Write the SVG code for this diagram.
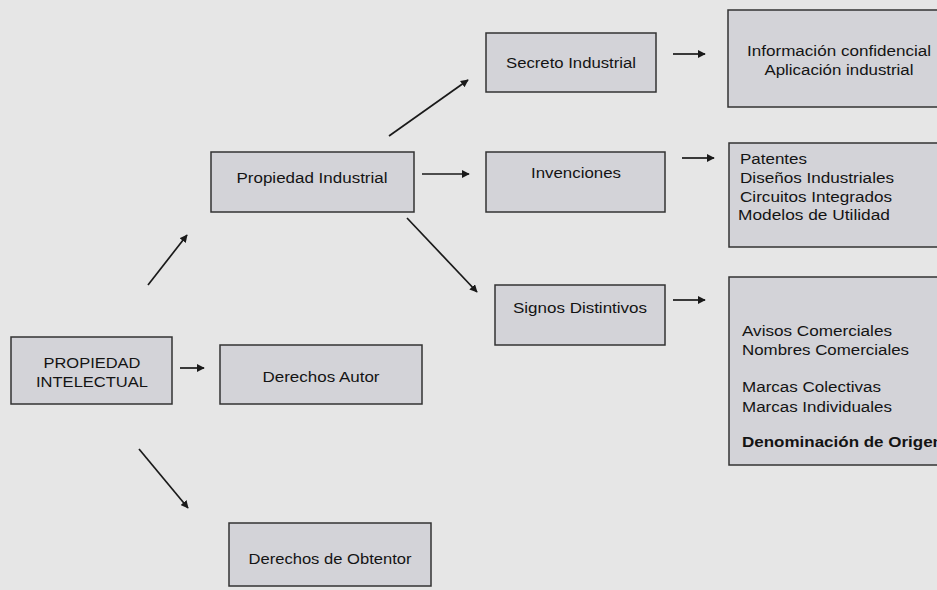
<svg xmlns="http://www.w3.org/2000/svg" width="937" height="590" viewBox="0 0 937 590">
  <style>
    .box { fill: #d3d3d8; stroke: #333333; stroke-width: 1.5; }
    .lbl { font-family: "Liberation Sans", Arial, sans-serif; font-size: 15.5px; fill: #141414; }
    .mid { text-anchor: middle; }
    .bold { font-weight: bold; }
    .con { stroke: #1a1a1a; stroke-width: 1.7; fill: none; marker-end: url(#head); }
  </style>
  <defs>
    <marker id="head" viewBox="0 0 10 10" refX="9" refY="5" markerWidth="4.6" markerHeight="4.6" orient="auto" markerUnits="strokeWidth">
      <path d="M0,0 L10,5 L0,10 Z" fill="#1a1a1a"/>
    </marker>
  </defs>

  <rect width="937" height="590" fill="#e6e6e6"/>

  <g id="connectors">
    <line class="con" x1="148" y1="285" x2="187" y2="235"/>
    <line class="con" x1="180" y1="368" x2="204" y2="368"/>
    <line class="con" x1="139" y1="449" x2="188" y2="508"/>
    <line class="con" x1="389" y1="136" x2="468" y2="80"/>
    <line class="con" x1="422" y1="174" x2="469" y2="174"/>
    <line class="con" x1="407" y1="218" x2="477" y2="292"/>
    <line class="con" x1="673" y1="54" x2="705" y2="54"/>
    <line class="con" x1="682" y1="158" x2="714" y2="158"/>
    <line class="con" x1="673" y1="300" x2="705" y2="300"/>
  </g>

  <g id="propiedad-intelectual">
    <rect class="box" x="11" y="337" width="161" height="67"/>
    <text class="lbl mid" x="92" y="368" textLength="97" lengthAdjust="spacingAndGlyphs">PROPIEDAD</text>
    <text class="lbl mid" x="92" y="387" textLength="112" lengthAdjust="spacingAndGlyphs">INTELECTUAL</text>
  </g>

  <g id="propiedad-industrial">
    <rect class="box" x="211" y="152" width="203" height="60"/>
    <text class="lbl mid" x="312" y="183" textLength="151" lengthAdjust="spacingAndGlyphs">Propiedad Industrial</text>
  </g>

  <g id="derechos-autor">
    <rect class="box" x="220" y="345" width="202" height="59"/>
    <text class="lbl mid" x="321" y="382" textLength="117" lengthAdjust="spacingAndGlyphs">Derechos Autor</text>
  </g>

  <g id="derechos-obtentor">
    <rect class="box" x="229" y="523" width="202" height="63"/>
    <text class="lbl mid" x="330" y="564" textLength="163" lengthAdjust="spacingAndGlyphs">Derechos de Obtentor</text>
  </g>

  <g id="secreto-industrial">
    <rect class="box" x="486" y="33" width="170" height="59"/>
    <text class="lbl mid" x="571" y="68" textLength="130" lengthAdjust="spacingAndGlyphs">Secreto Industrial</text>
  </g>

  <g id="invenciones">
    <rect class="box" x="486" y="152" width="179" height="60"/>
    <text class="lbl mid" x="576" y="178" textLength="90" lengthAdjust="spacingAndGlyphs">Invenciones</text>
  </g>

  <g id="signos-distintivos">
    <rect class="box" x="495" y="285" width="170" height="60"/>
    <text class="lbl mid" x="580" y="313" textLength="134" lengthAdjust="spacingAndGlyphs">Signos Distintivos</text>
  </g>

  <g id="secreto-detalle">
    <rect class="box" x="728" y="10" width="215" height="97"/>
    <text class="lbl mid" x="839" y="56" textLength="184" lengthAdjust="spacingAndGlyphs">Información confidencial</text>
    <text class="lbl mid" x="839" y="75" textLength="149" lengthAdjust="spacingAndGlyphs">Aplicación industrial</text>
  </g>

  <g id="invenciones-detalle">
    <rect class="box" x="729" y="143" width="215" height="104"/>
    <text class="lbl" x="740" y="164" textLength="67" lengthAdjust="spacingAndGlyphs">Patentes</text>
    <text class="lbl" x="740" y="183" textLength="154" lengthAdjust="spacingAndGlyphs">Diseños Industriales</text>
    <text class="lbl" x="740" y="202" textLength="152" lengthAdjust="spacingAndGlyphs">Circuitos Integrados</text>
    <text class="lbl" x="738" y="220" textLength="152" lengthAdjust="spacingAndGlyphs">Modelos de Utilidad</text>
  </g>

  <g id="signos-detalle">
    <rect class="box" x="729" y="277" width="215" height="188"/>
    <text class="lbl" x="742" y="336" textLength="150" lengthAdjust="spacingAndGlyphs">Avisos Comerciales</text>
    <text class="lbl" x="742" y="355" textLength="167" lengthAdjust="spacingAndGlyphs">Nombres Comerciales</text>
    <text class="lbl" x="742" y="392" textLength="139" lengthAdjust="spacingAndGlyphs">Marcas Colectivas</text>
    <text class="lbl" x="742" y="412" textLength="150" lengthAdjust="spacingAndGlyphs">Marcas Individuales</text>
    <text class="lbl bold" x="742" y="447" textLength="201" lengthAdjust="spacingAndGlyphs">Denominación de Origen</text>
  </g>
</svg>
